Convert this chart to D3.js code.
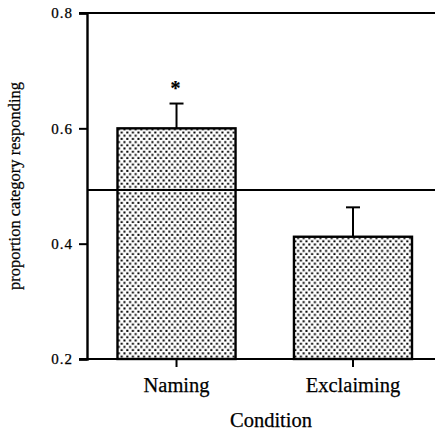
<!DOCTYPE html>
<html>
<head>
<meta charset="utf-8">
<script src="https://cdn.jsdelivr.net/npm/d3@7"></script>
<style>
  body { margin: 0; background: #fff; }
  svg text { font-family: "Times New Roman", "Liberation Serif", "DejaVu Serif", serif; fill: #000; stroke: #000; stroke-width: 0.25px; }
</style>
</head>
<body>
<div id="chart"></div>
<script>
// data
var conditions = ["Naming", "Exclaiming"];
var means = [0.600, 0.412];
var errTops = [0.643, 0.463];
var signif = ["*", ""];
var chance = 0.493;
var yTicks = [0.2, 0.4, 0.6, 0.8];

var W = 435, H = 432;
var serif = "'Times New Roman', 'Liberation Serif', 'DejaVu Serif', serif";
var svg = d3.select("#chart").append("svg")
  .attr("width", W)
  .attr("height", H)
  .attr("font-family", serif);

// dotted fill
var defs = svg.append("defs");
var pat = defs.append("pattern")
  .attr("id", "dots")
  .attr("patternUnits", "userSpaceOnUse")
  .attr("width", 5.6)
  .attr("height", 6.4);
pat.append("rect").attr("width", 5.6).attr("height", 6.4).attr("fill", "#fff");
pat.append("rect").attr("x", 0.3).attr("y", 0.3).attr("width", 2).attr("height", 2).attr("fill", "#000");
pat.append("rect").attr("x", 3.1).attr("y", 3.5).attr("width", 2).attr("height", 2).attr("fill", "#000");

var y = d3.scaleLinear().domain([0.2, 0.8]).range([359, 13]);
var x = d3.scaleBand()
  .domain(conditions)
  .range([88.25, 441.25])
  .paddingInner(0.331)
  .paddingOuter(0.1657);

var axisX = 87, rightEdge = 435;

// bars
svg.append("g")
  .selectAll("rect")
  .data(conditions)
  .enter()
  .append("rect")
  .attr("x", function (d) { return x(d); })
  .attr("y", function (d, i) { return y(means[i]); })
  .attr("width", x.bandwidth())
  .attr("height", function (d, i) { return y(0.2) - y(means[i]); })
  .attr("fill", "url(#dots)")
  .attr("stroke", "#000")
  .attr("stroke-width", 2.4);

// error bars (upper only)
var eb = svg.append("g").attr("stroke", "#000").attr("stroke-width", 2);
conditions.forEach(function (c, i) {
  var cx = x(c) + x.bandwidth() / 2;
  eb.append("line")
    .attr("x1", cx).attr("x2", cx)
    .attr("y1", y(means[i])).attr("y2", y(errTops[i]));
  eb.append("line")
    .attr("x1", cx - 7).attr("x2", cx + 7)
    .attr("y1", y(errTops[i])).attr("y2", y(errTops[i]));
  if (signif[i]) {
    svg.append("text")
      .attr("x", cx - 1)
      .attr("y", y(errTops[i]) - 9)
      .attr("text-anchor", "middle")
      .style("font-size", "20px")
      .style("font-weight", "bold")
      .text(signif[i]);
  }
});

// chance line
svg.append("line")
  .attr("x1", axisX).attr("x2", rightEdge)
  .attr("y1", y(chance)).attr("y2", y(chance))
  .attr("stroke", "#000").attr("stroke-width", 2);

// top and bottom frame lines
[0.8, 0.2].forEach(function (v) {
  svg.append("line")
    .attr("x1", axisX - 8).attr("x2", rightEdge)
    .attr("y1", y(v)).attr("y2", y(v))
    .attr("stroke", "#000").attr("stroke-width", 2.2);
});

// y axis
var yAxis = svg.append("g")
  .attr("transform", "translate(" + axisX + ",0)")
  .call(d3.axisLeft(y).tickValues(yTicks).tickSize(8).tickPadding(6).tickFormat(d3.format(".1f")));
yAxis.attr("font-family", serif);
yAxis.select(".domain").attr("stroke-width", 2.4);
yAxis.selectAll(".tick line").attr("stroke-width", 2);
yAxis.selectAll("text")
  .attr("font-size", 15)
  .style("letter-spacing", "1px");

// x axis
var xAxis = svg.append("g")
  .attr("transform", "translate(0," + y(0.2) + ")")
  .call(d3.axisBottom(x).tickSize(8).tickPadding(10));
xAxis.attr("font-family", serif);
xAxis.select(".domain").remove();
xAxis.selectAll(".tick line").attr("stroke-width", 2);
xAxis.selectAll("text")
  .attr("font-size", 20.5);

// axis titles
svg.append("text")
  .attr("x", 271)
  .attr("y", 427)
  .attr("text-anchor", "middle")
  .attr("font-size", 20.5)
  .text("Condition");

svg.append("text")
  .attr("transform", "translate(20,186) rotate(-90)")
  .attr("text-anchor", "middle")
  .attr("font-size", 16.5)
  .text("proportion category responding");
</script>
</body>
</html>
